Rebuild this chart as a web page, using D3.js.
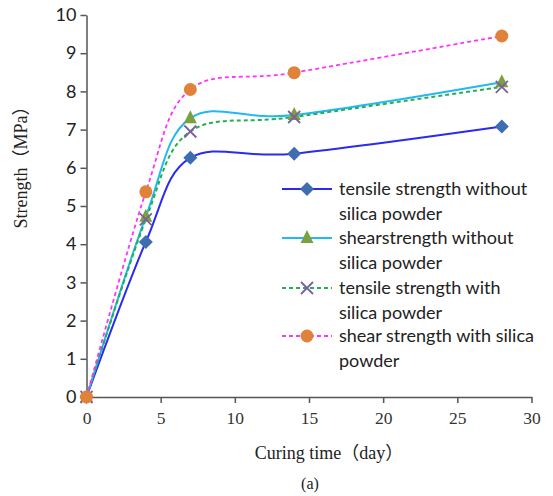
<!DOCTYPE html>
<html><head><meta charset="utf-8">
<script src="https://cdn.jsdelivr.net/npm/d3@7"></script>
<style>body{margin:0;background:#fff}</style>
</head><body><svg id="c" width="553" height="496"></svg>
<script>
const days = [0, 4, 7, 14, 28];
const tensileWithout = [0, 4.06, 6.26, 6.37, 7.08];
const shearWithout = [0, 4.72, 7.3, 7.38, 8.24];
const tensileWith = [0, 4.65, 6.95, 7.33, 8.12];
const shearWith = [0, 5.37, 8.05, 8.49, 9.45];
const xTicks = [0, 5, 10, 15, 20, 25, 30];
const yTicks = [0, 1, 2, 3, 4, 5, 6, 7, 8, 9, 10];
const seriesNames = [
  ["tensile strength without", "silica powder"],
  ["shearstrength without", "silica powder"],
  ["tensile strength with", "silica powder"],
  ["shear strength with silica", "powder"]
];

const series = [
  {vals: tensileWithout, line: "#2b2bf0", dash: null, marker: "diamond", mcol: "#3e6db0", w: 2},
  {vals: shearWithout, line: "#22b8f0", dash: null, marker: "triangle", mcol: "#7aa040", w: 2},
  {vals: tensileWith, line: "#22b050", dash: "4,3", marker: "x", mcol: "#7a609e", w: 2},
  {vals: shearWith, line: "#ff33ff", dash: "4,3", marker: "circle", mcol: "#e0823a", w: 1.8}
];

const svg = d3.select("#c");
const x = d3.scaleLinear().domain([0, 30]).range([86.5, 531.5]);
const y = d3.scaleLinear().domain([0, 10]).range([397, 15]);

const axisCol = "#555";
const ya = svg.append("g").attr("transform", "translate(86.5,0)")
  .call(d3.axisLeft(y).tickValues(yTicks).tickSize(6).tickSizeOuter(0));
ya.select(".domain").attr("stroke", axisCol).attr("stroke-width", 1.5);
ya.selectAll(".tick line").attr("stroke", axisCol).attr("stroke-width", 1.5);
ya.selectAll(".tick text").attr("font-family", "Lato, 'Open Sans', sans-serif").attr("font-size", 18).attr("fill", "#222").attr("x", -10);

const xa = svg.append("g").attr("transform", "translate(0,397)")
  .call(d3.axisBottom(x).tickValues(xTicks).tickSize(6).tickSizeOuter(0));
xa.select(".domain").attr("stroke", axisCol).attr("stroke-width", 1.5);
xa.selectAll(".tick text").attr("font-family", "'Liberation Serif', serif").attr("font-size", 17.5).attr("fill", "#333").attr("dy", "1.05em");
xa.selectAll(".tick line").attr("stroke", axisCol).attr("stroke-width", 1.5);

const titleFont = "'Liberation Serif', 'Noto Sans CJK SC', serif";
svg.append("text").attr("x", 329).attr("y", 459).attr("text-anchor", "middle")
  .attr("font-family", titleFont).attr("font-size", 18).attr("fill", "#222")
  .text("Curing time（day）");
svg.append("text").attr("transform", "translate(27,163) rotate(-90)").attr("text-anchor", "middle")
  .attr("font-family", titleFont).attr("font-size", 18).attr("fill", "#222")
  .text("Strength（MPa）");
svg.append("text").attr("x", 310).attr("y", 489).attr("text-anchor", "middle")
  .attr("font-family", "'Liberation Serif', serif").attr("font-size", 16).attr("fill", "#222")
  .text("(a)");

const line = d3.line().x(d => x(d[0])).y(d => y(d[1])).curve(d3.curveCardinal.tension(0));

function drawMarker(g, type, col, cx, cy) {
  if (type === "diamond") {
    g.append("path").attr("d", `M${cx},${cy-7}L${cx+7},${cy}L${cx},${cy+7}L${cx-7},${cy}Z`).attr("fill", col);
  } else if (type === "triangle") {
    g.append("path").attr("d", `M${cx},${cy-8}L${cx+6.5},${cy+5}L${cx-6.5},${cy+5}Z`).attr("fill", col);
  } else if (type === "x") {
    g.append("path").attr("d", `M${cx-6},${cy-6}L${cx+6},${cy+6}M${cx-6},${cy+6}L${cx+6},${cy-6}`).attr("stroke", col).attr("stroke-width", 1.8).attr("fill", "none");
  } else {
    g.append("circle").attr("cx", cx).attr("cy", cy).attr("r", 6.5).attr("fill", col);
  }
}

series.forEach(s => {
  const pts = days.map((d, i) => [d, s.vals[i]]);
  svg.append("path").attr("d", line(pts)).attr("fill", "none").attr("stroke", s.line)
    .attr("stroke-width", s.w).attr("stroke-dasharray", s.dash);
});
series.forEach(s => {
  const g = svg.append("g");
  days.forEach((d, i) => drawMarker(g, s.marker, s.mcol, x(d), y(s.vals[i])));
});

const legY = [189, 238, 288, 336];
series.forEach((s, i) => {
  const g = svg.append("g");
  g.append("line").attr("x1", 282).attr("x2", 332).attr("y1", legY[i]).attr("y2", legY[i])
    .attr("stroke", s.line).attr("stroke-width", s.w).attr("stroke-dasharray", s.dash);
  drawMarker(g, s.marker, s.mcol, 307, legY[i]);
  seriesNames[i].forEach((t, j) => {
    g.append("text").attr("x", 339).attr("y", legY[i] + 6 + j * 25)
      .attr("font-family", "Lato, 'Open Sans', sans-serif").attr("font-size", 18).attr("fill", "#222").text(t);
  });
});
</script></body></html>
